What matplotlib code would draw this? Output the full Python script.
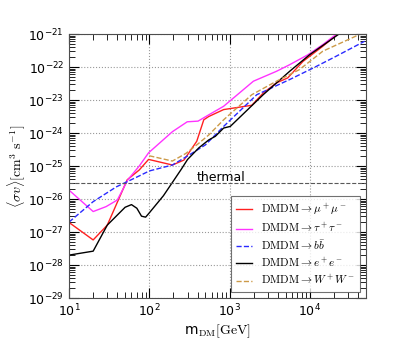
import matplotlib
matplotlib.use('Agg')
import matplotlib.pyplot as plt
import numpy as np
from matplotlib.ticker import FuncFormatter, FixedLocator

plt.rcParams['mathtext.fontset'] = 'cm'

# annihilation cross section limits, mass in GeV, log10(<sigma v>) in cm^3/s
mass_mu = [10, 20, 30, 53, 75, 98, 194, 270, 390, 477, 550, 843, 1890, 2620, 3840, 5300, 8200, 14500, 23000]
logsv_mu = [-26.71, -27.24, -26.79, -25.42, -25.12, -24.80, -24.97, -24.82, -24.25, -23.60, -23.50, -23.29, -23.16, -22.79, -22.48, -22.33, -21.83, -21.37, -20.97]

mass_tau = [10, 20, 29, 40, 54, 75, 98, 194, 297, 405, 550, 843, 1980, 3840, 5600, 9440, 14500, 21000, 23000]
logsv_tau = [-25.73, -26.38, -26.23, -26.03, -25.42, -25.00, -24.60, -23.96, -23.66, -23.64, -23.45, -23.19, -22.43, -22.13, -21.93, -21.63, -21.32, -21.02, -20.95]

mass_b = [10, 20, 39, 75, 100, 194, 312, 500, 843, 2180, 5600, 11000, 21000, 48000]
logsv_b = [-26.70, -26.08, -25.63, -25.30, -25.15, -24.97, -24.67, -24.36, -23.80, -22.84, -22.38, -22.03, -21.68, -21.22]

mass_e = [10, 20, 30, 50, 60, 70, 80, 90, 100, 150, 200, 250, 300, 414, 550, 665, 843, 1020, 2620, 5600, 9900, 24000]
logsv_e = [-27.70, -27.58, -26.79, -26.25, -26.17, -26.28, -26.52, -26.55, -26.42, -25.90, -25.45, -25.10, -24.80, -24.45, -24.21, -24.10, -23.85, -23.80, -22.84, -22.13, -21.63, -20.97]

mass_w = [100, 194, 285, 414, 550, 843, 1890, 3840, 7400, 14500, 41000]
logsv_w = [-24.69, -24.85, -24.62, -24.31, -24.06, -23.60, -22.84, -22.43, -22.08, -21.52, -21.02]

thermal = 3e-26

xticks = [1e1, 1e2, 1e3, 1e4]
yticks = [1e-29, 1e-28, 1e-27, 1e-26, 1e-25, 1e-24, 1e-23, 1e-22, 1e-21]

series = [
    (mass_mu, logsv_mu, r'$\mathrm{DMDM}\rightarrow\mu^+\mu^-$', '#ff2020', '-'),
    (mass_tau, logsv_tau, r'$\mathrm{DMDM}\rightarrow\tau^+\tau^-$', '#ff33ff', '-'),
    (mass_b, logsv_b, r'$\mathrm{DMDM}\rightarrow b\bar{b}$', '#2a2aff', '--'),
    (mass_e, logsv_e, r'$\mathrm{DMDM}\rightarrow e^+e^-$', 'k', '-'),
    (mass_w, logsv_w, r'$\mathrm{DMDM}\rightarrow W^+W^-$', '#cc9a48', '--'),
]

fig = plt.figure(figsize=(4.07, 3.39), dpi=100)
ax = fig.add_axes([0.1695, 0.1209, 0.7298, 0.7788])

for m, lsv, lab, col, ls in series:
    ax.plot(m, 10.0**np.array(lsv), color=col, ls=ls, lw=1.0, label=lab)

ax.axhline(thermal, color='0.35', ls='--', lw=0.8)
ax.text(390, 3.6e-26, 'thermal', fontsize=9)

ax.set_xscale('log')
ax.set_yscale('log')
ax.set_xlim(10, 5e4)
ax.set_ylim(1e-29, 1e-21)

fmt = FuncFormatter(lambda v, p: r'$\mathregular{10^{%d}}$' % int(round(np.log10(v))))
ax.xaxis.set_major_locator(FixedLocator(xticks))
ax.yaxis.set_major_locator(FixedLocator(yticks))
ax.xaxis.set_major_formatter(fmt)
ax.yaxis.set_major_formatter(fmt)
ax.yaxis.set_minor_locator(FixedLocator([k * t for t in yticks[:-1] for k in range(2, 10)]))
ax.xaxis.set_minor_locator(FixedLocator([k * t for t in xticks for k in range(2, 10) if k * t <= 5e4]))
ax.tick_params(which='both', direction='in', top=True, right=True, labelsize=9)
ax.tick_params(which='major', length=7, width=0.8)
ax.tick_params(which='minor', length=4, width=0.6)
ax.grid(True, which='major', ls=':', color='0.6', lw=0.8)
for s in ax.spines.values():
    s.set_color('0.3')

ax.set_xlabel(r'm$_{\rm DM}$$[\rm GeV]$', fontsize=10, labelpad=2)
ax.set_ylabel(r'$\langle\sigma v\rangle[\rm cm^3\ s^{-1}]$', fontsize=10, labelpad=0)

leg = ax.legend(loc='lower right', fontsize=8, handlelength=1.4, fancybox=False,
                edgecolor='0.3', labelspacing=0.3, borderpad=0.5)
leg.get_frame().set_linewidth(0.8)

fig.savefig('out.png', dpi=100)
